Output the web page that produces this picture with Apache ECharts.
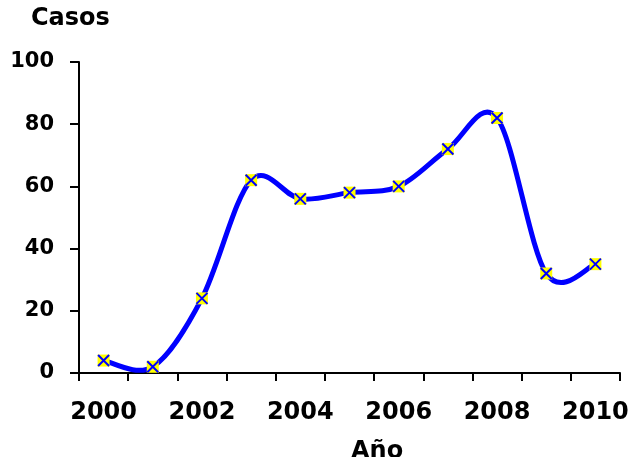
<!DOCTYPE html>
<html>
<head>
<meta charset="utf-8">
<script src="https://cdn.jsdelivr.net/npm/echarts@6/dist/echarts.min.js"></script>
<style>
  html, body { margin: 0; padding: 0; background: #fff; }
  #chart { width: 628px; height: 457px; }
</style>
</head>
<body>
<div id="chart"></div>
<script>
// Yearly case counts
const years = ['2000', '2001', '2002', '2003', '2004', '2005', '2006', '2007', '2008', '2009', '2010'];
const casos = [4, 2, 24, 62, 56, 58, 60, 72, 82, 32, 35];
const yTicks = { min: 0, max: 100, step: 20 };

const FONT = 'DejaVu Sans';
const BLUE = '#0000FF';
const YELLOW = '#FFFF00';

const points = casos.map((v, i) => [i, v]);

// Cardinal (Catmull-Rom) curve through the data points, one cubic segment per pair,
// positioned through the chart's own coordinate system.
function renderSmoothLine(params, api) {
  const i = params.dataIndex;
  if (i >= points.length - 1) return null;
  const P = k => api.coord(points[Math.max(0, Math.min(points.length - 1, k))]);
  const p0 = P(i - 1), p1 = P(i), p2 = P(i + 1), p3 = P(i + 2);
  const t = 1 / 6;
  return {
    type: 'bezierCurve',
    shape: {
      x1: p1[0], y1: p1[1],
      cpx1: p1[0] + (p2[0] - p0[0]) * t, cpy1: p1[1] + (p2[1] - p0[1]) * t,
      cpx2: p2[0] - (p3[0] - p1[0]) * t, cpy2: p2[1] - (p3[1] - p1[1]) * t,
      x2: p2[0], y2: p2[1]
    },
    style: { stroke: BLUE, lineWidth: 5, fill: null, lineCap: 'round' }
  };
}

const chart = echarts.init(document.getElementById('chart'), null, { renderer: 'canvas' });

chart.setOption({
  animation: false,
  backgroundColor: '#ffffff',
  grid: { left: 79, right: 8, top: 62, bottom: 84, containLabel: false, outerBoundsMode: 'none' },
  xAxis: {
    type: 'category',
    data: years,
    boundaryGap: true,
    axisLine: { lineStyle: { color: '#000', width: 2 } },
    axisTick: { show: true, length: 8, lineStyle: { color: '#000', width: 2 }, interval: 0 },
    axisLabel: {
      interval: 1,
      margin: 28,
      color: '#000',
      fontFamily: FONT,
      fontWeight: 'bold',
      fontSize: 24
    },
    splitLine: { show: false }
  },
  yAxis: {
    type: 'value',
    min: yTicks.min,
    max: yTicks.max,
    interval: yTicks.step,
    axisLine: { show: true, lineStyle: { color: '#000', width: 2 } },
    axisTick: { show: true, length: 9, lineStyle: { color: '#000', width: 2 } },
    axisLabel: {
      margin: 25,
      color: '#000',
      fontFamily: FONT,
      fontWeight: 'bold',
      fontSize: 21
    },
    splitLine: { show: false }
  },
  graphic: [
    {
      type: 'text',
      left: 31, top: 7,
      style: { text: 'Casos', fill: '#000', font: 'bold 24px "' + FONT + '"' }
    },
    {
      type: 'text',
      left: 351, top: 440,
      style: { text: 'Año', fill: '#000', font: 'bold 24px "' + FONT + '"' }
    }
  ],
  series: [
    {
      type: 'custom',
      data: points,
      encode: { x: 0, y: 1 },
      renderItem: renderSmoothLine,
      clip: false,
      z: 2
    },
    {
      type: 'scatter',
      data: points,
      symbol: 'rect',
      symbolSize: 12,
      itemStyle: { color: YELLOW, borderWidth: 0, opacity: 1 },
      z: 3
    },
    {
      type: 'scatter',
      data: points,
      symbol: 'path://M0,0L10,10M10,0L0,10',
      symbolSize: 11,
      itemStyle: { color: 'none', borderColor: BLUE, borderWidth: 2, opacity: 1 },
      z: 4
    }
  ]
});
</script>
</body>
</html>
